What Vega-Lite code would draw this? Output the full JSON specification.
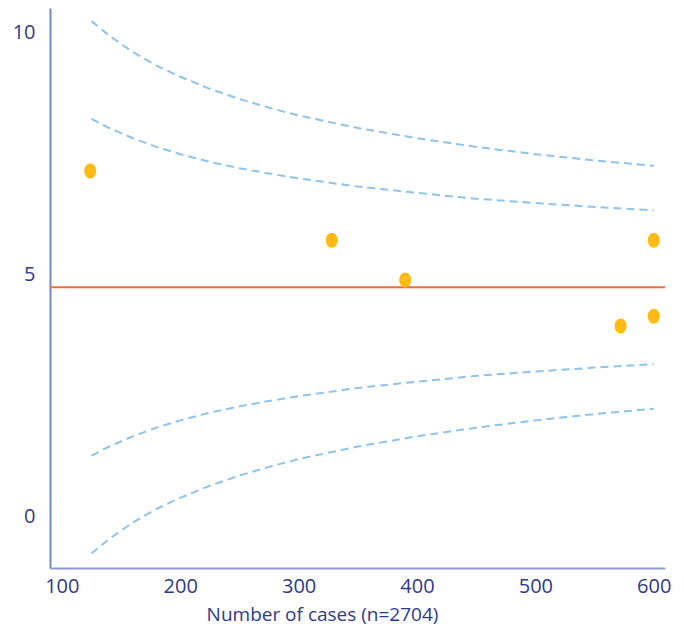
{
  "$schema": "https://vega.github.io/schema/vega-lite/v6.json",
  "autosize": "none",
  "width": 615,
  "height": 560,
  "padding": {"left": 50, "top": 8, "right": 19, "bottom": 60},
  "background": "white",
  "config": {
    "view": {"stroke": null}
  },
  "datasets": {
    "limits": [
      {"n": 125, "band": "upper99", "value": 10.23},
      {"n": 140, "band": "upper99", "value": 9.93},
      {"n": 160, "band": "upper99", "value": 9.59},
      {"n": 180, "band": "upper99", "value": 9.31},
      {"n": 200, "band": "upper99", "value": 9.08},
      {"n": 225, "band": "upper99", "value": 8.83},
      {"n": 250, "band": "upper99", "value": 8.62},
      {"n": 275, "band": "upper99", "value": 8.44},
      {"n": 300, "band": "upper99", "value": 8.28},
      {"n": 350, "band": "upper99", "value": 8.02},
      {"n": 400, "band": "upper99", "value": 7.81},
      {"n": 450, "band": "upper99", "value": 7.63},
      {"n": 500, "band": "upper99", "value": 7.48},
      {"n": 550, "band": "upper99", "value": 7.35},
      {"n": 600, "band": "upper99", "value": 7.24},
      {"n": 125, "band": "upper95", "value": 8.21},
      {"n": 140, "band": "upper95", "value": 8.02},
      {"n": 160, "band": "upper95", "value": 7.81},
      {"n": 180, "band": "upper95", "value": 7.63},
      {"n": 200, "band": "upper95", "value": 7.48},
      {"n": 225, "band": "upper95", "value": 7.32},
      {"n": 250, "band": "upper95", "value": 7.19},
      {"n": 275, "band": "upper95", "value": 7.08},
      {"n": 300, "band": "upper95", "value": 6.98},
      {"n": 350, "band": "upper95", "value": 6.81},
      {"n": 400, "band": "upper95", "value": 6.68},
      {"n": 450, "band": "upper95", "value": 6.56},
      {"n": 500, "band": "upper95", "value": 6.47},
      {"n": 550, "band": "upper95", "value": 6.39},
      {"n": 600, "band": "upper95", "value": 6.32},
      {"n": 125, "band": "lower95", "value": 1.25},
      {"n": 140, "band": "lower95", "value": 1.44},
      {"n": 160, "band": "lower95", "value": 1.65},
      {"n": 180, "band": "lower95", "value": 1.83},
      {"n": 200, "band": "lower95", "value": 1.98},
      {"n": 225, "band": "lower95", "value": 2.14},
      {"n": 250, "band": "lower95", "value": 2.27},
      {"n": 275, "band": "lower95", "value": 2.38},
      {"n": 300, "band": "lower95", "value": 2.48},
      {"n": 350, "band": "lower95", "value": 2.65},
      {"n": 400, "band": "lower95", "value": 2.78},
      {"n": 450, "band": "lower95", "value": 2.90},
      {"n": 500, "band": "lower95", "value": 2.99},
      {"n": 550, "band": "lower95", "value": 3.07},
      {"n": 600, "band": "lower95", "value": 3.14},
      {"n": 125, "band": "lower99", "value": -0.77},
      {"n": 140, "band": "lower99", "value": -0.47},
      {"n": 160, "band": "lower99", "value": -0.13},
      {"n": 180, "band": "lower99", "value": 0.15},
      {"n": 200, "band": "lower99", "value": 0.38},
      {"n": 225, "band": "lower99", "value": 0.63},
      {"n": 250, "band": "lower99", "value": 0.84},
      {"n": 275, "band": "lower99", "value": 1.02},
      {"n": 300, "band": "lower99", "value": 1.18},
      {"n": 350, "band": "lower99", "value": 1.44},
      {"n": 400, "band": "lower99", "value": 1.65},
      {"n": 450, "band": "lower99", "value": 1.83},
      {"n": 500, "band": "lower99", "value": 1.98},
      {"n": 550, "band": "lower99", "value": 2.11},
      {"n": 600, "band": "lower99", "value": 2.22}
    ],
    "units": [
      {"n": 124, "rate": 7.13},
      {"n": 328, "rate": 5.70},
      {"n": 390, "rate": 4.88},
      {"n": 572, "rate": 3.93},
      {"n": 600, "rate": 4.13},
      {"n": 600, "rate": 5.70}
    ],
    "mean": [{"rate": 4.73}]
  },
  "layer": [
    {
      "data": {"name": "limits"},
      "mark": {"type": "line", "color": "#8CC4EE", "strokeWidth": 2, "strokeDash": [8, 5]},
      "encoding": {
        "x": {
          "field": "n", "type": "quantitative",
          "scale": {"domain": [90, 609.5], "nice": false, "zero": false},
          "axis": {
            "values": [100, 200, 300, 400, 500, 600],
            "title": "Number of cases (n=2704)",
            "labelFont": "Open Sans", "titleFont": "Open Sans",
            "labelFontSize": 20, "titleFontSize": 19, "titleFontWeight": "normal",
            "labelColor": "#2E3A8C", "titleColor": "#2E3A8C",
            "domainColor": "#8A9CCF", "domainWidth": 2,
            "ticks": false, "grid": false,
            "labelPadding": 8, "titlePadding": 9,
            "titleX": 272
          }
        },
        "y": {
          "field": "value", "type": "quantitative",
          "scale": {"domain": [-1.07, 10.5], "nice": false, "zero": false},
          "axis": {
            "values": [0, 5, 10], "title": null,
            "labelFont": "Open Sans", "labelFontSize": 20, "labelColor": "#2E3A8C",
            "domainColor": "#7388C6", "domainWidth": 2,
            "ticks": false, "grid": false,
            "labelPadding": 15
          }
        },
        "detail": {"field": "band"}
      }
    },
    {
      "data": {"name": "mean"},
      "mark": {"type": "rule", "color": "#EE6C3A", "strokeWidth": 2},
      "encoding": {
        "y": {"field": "rate", "type": "quantitative"}
      }
    },
    {
      "data": {"name": "units"},
      "mark": {
        "type": "point",
        "filled": true,
        "opacity": 1,
        "color": "#FFBB14",
        "size": 225,
        "shape": "M-0.8,0 A0.8,1 0 1,1 0.8,0 A0.8,1 0 1,1 -0.8,0 Z"
      },
      "encoding": {
        "x": {"field": "n", "type": "quantitative"},
        "y": {"field": "rate", "type": "quantitative"}
      }
    }
  ]
}
